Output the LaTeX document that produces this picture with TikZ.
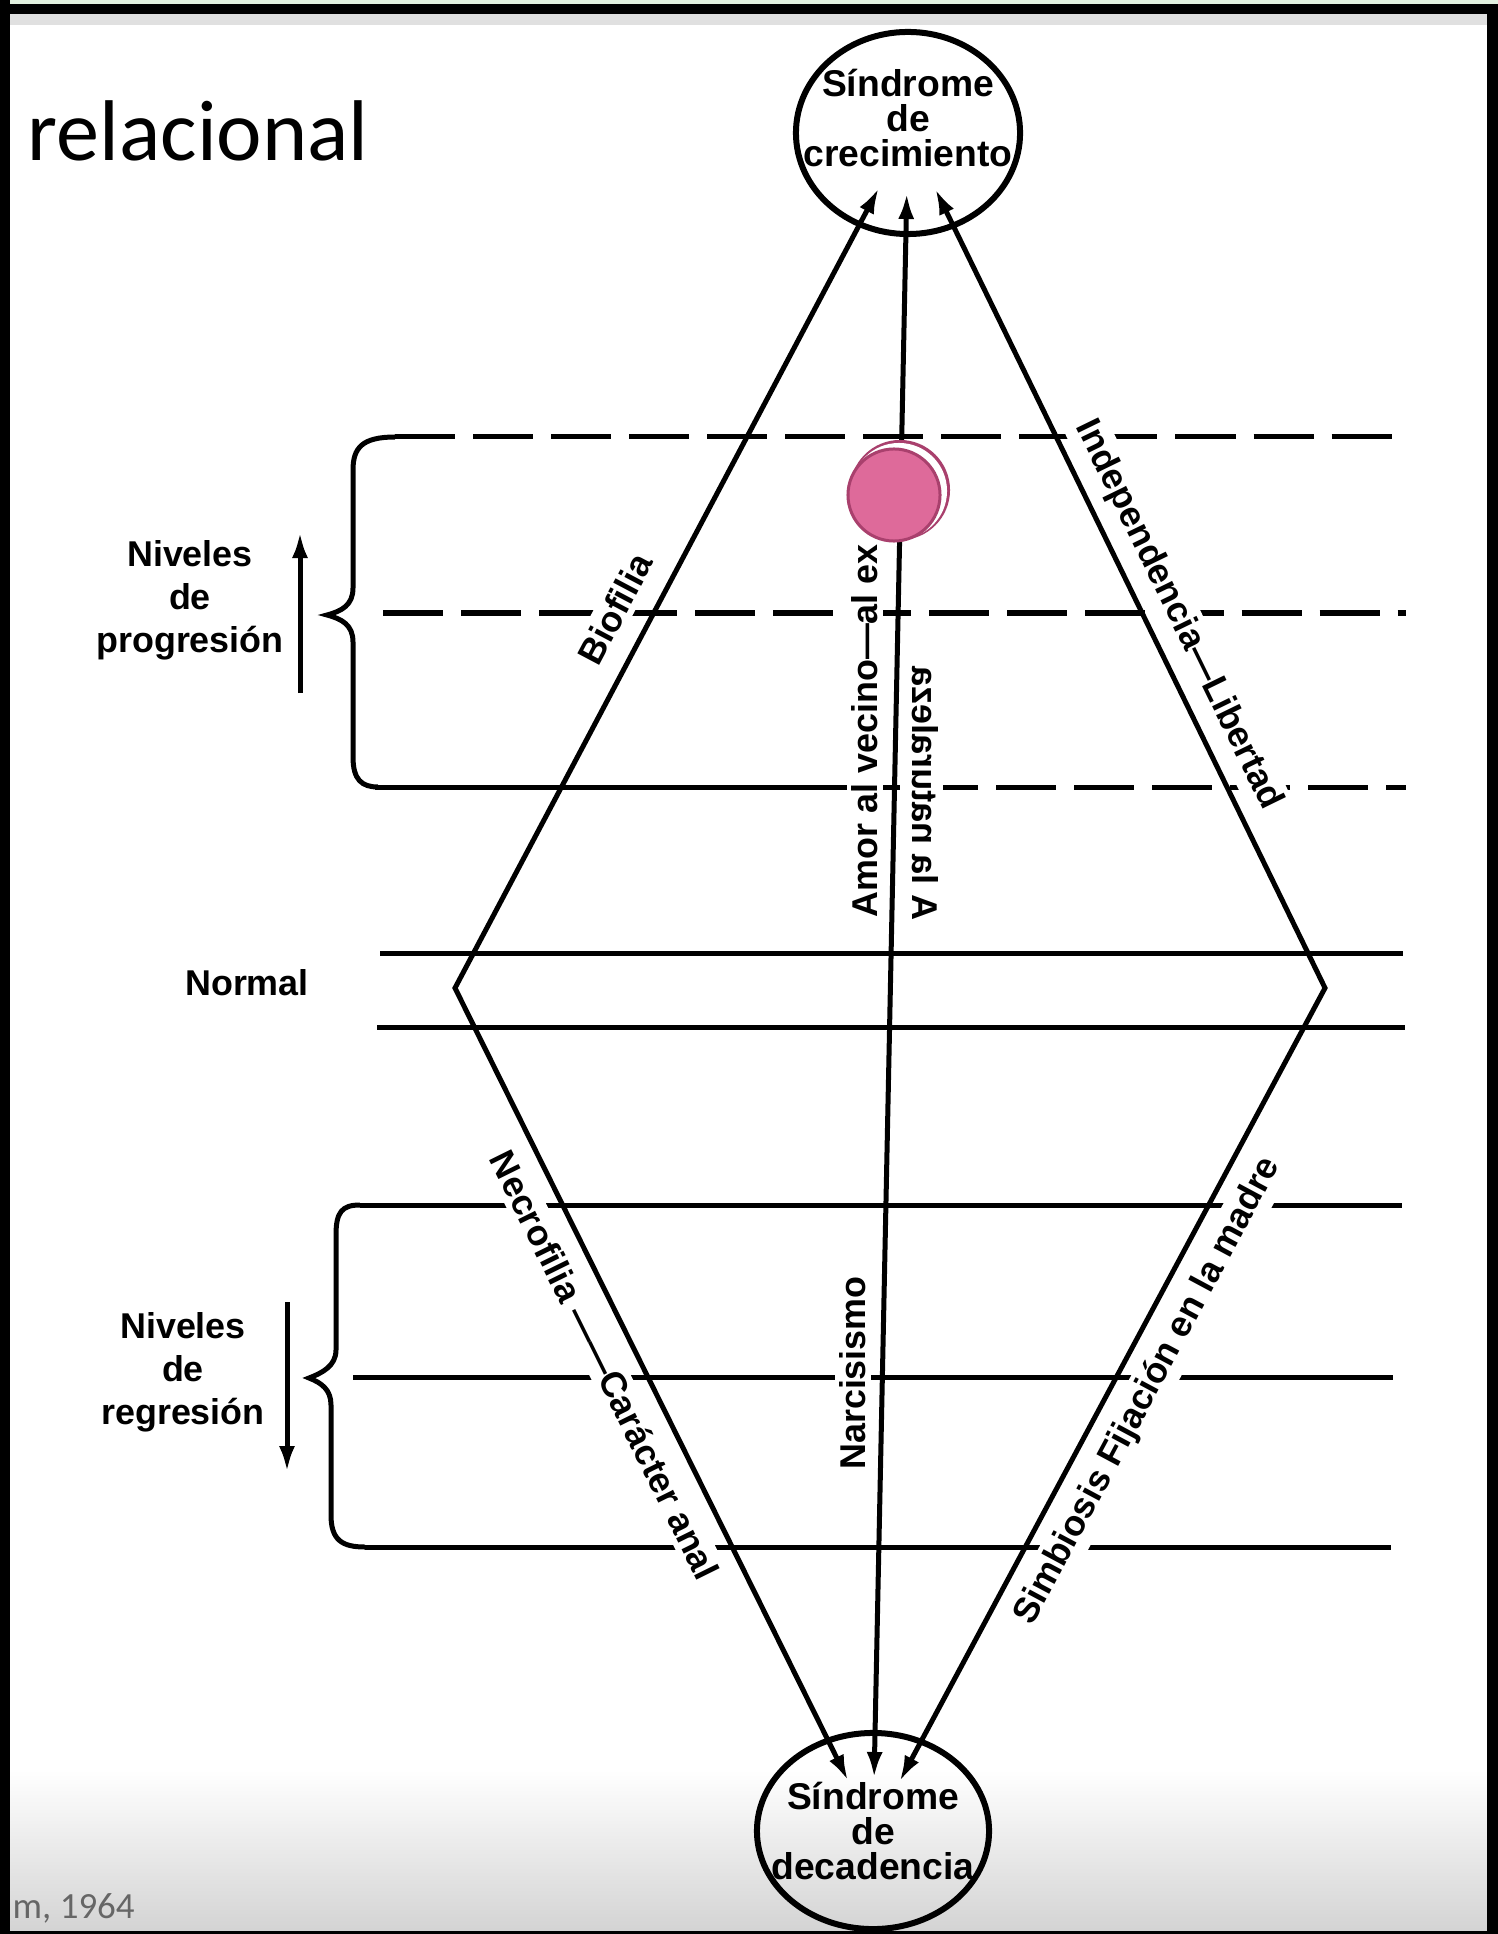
\documentclass[tikz,border=0pt]{standalone}
\usepackage{fontspec}
\setmainfont{Liberation Sans}
\newfontfamily\diapofont{Carlito}
\usetikzlibrary{arrows.meta}
\usetikzlibrary{shapes.geometric}

\definecolor{rosa}{HTML}{DE6A9A}
\definecolor{rosaborde}{HTML}{A9406D}
\definecolor{verdetenue}{HTML}{E2F1E0}

\begin{document}
\begin{tikzpicture}[x=0.01cm,y=-0.01cm,
    linea/.style={line width=0.5mm},
    guiones/.style={dash pattern=on 6mm off 1.8mm},
    flecha/.style={line width=0.5mm,-{Latex[length=2.6mm,width=1.6mm]}},
    flechas/.style={line width=0.5mm,{Latex[length=2.6mm,width=1.6mm]}-{Latex[length=2.6mm,width=1.6mm]}},
    sindrome/.style={ellipse,draw,line width=0.6mm,minimum width=22.4mm,minimum height=20.2mm,inner sep=0pt},
    sindtxt/.style={align=center,inner sep=0pt,font=\bfseries\fontsize{10.6}{10}\selectfont},
    etiqueta/.style={fill=white,inner sep=1.5pt,font=\bfseries\fontsize{10.2}{12.2}\selectfont},
    nivel/.style={align=center,inner sep=0pt,font=\bfseries\fontsize{10.2}{12.2}\selectfont}]

    \useasboundingbox (0,0) rectangle (1498,1934);
    \fill[white] (0,0) rectangle (1498,1934);
    \shade[top color=white,bottom color=black!17] (10,1770) rectangle (1487,1931);
    \fill[black!12] (10,14) rectangle (1487,25);

    % titulo y cita de la diapositiva
    \node[anchor=base west,inner sep=0pt,font=\diapofont\fontsize{24.5}{28}\selectfont] (titulo) at (27,161) {relacional};
    \node[anchor=base west,inner sep=0pt,text=black!60,font=\diapofont\fontsize{10.5}{12}\selectfont] (cita) at (12,1918) {m, 1964};

    % sindromes
    \node[sindrome] (crec) at (908,133) {};
    \node[sindtxt] (crectxt) at ([yshift=1.5mm]crec.center) {Síndrome\\de\\crecimiento};
    \node[sindrome,minimum width=23.2mm,minimum height=19.6mm] (deca) at (873,1831) {};
    \node[sindtxt] (decatxt) at (deca.center) {Síndrome\\de\\decadencia};

    % niveles
    \draw[linea,guiones] (395,437) -- (1409,437);
    \draw[linea,guiones] (383,613) -- (1406,613);
    \draw[linea] (375,787) -- (840,787);
    \draw[linea,guiones] (840,787) -- (1406,787);
    \draw[linea] (380,953) -- (1403,953);
    \draw[linea] (377,1027) -- (1405,1027);
    \draw[linea] (360,1205) -- (1402,1205);
    \draw[linea] (353,1377) -- (1393,1377);
    \draw[linea] (365,1547) -- (1391,1547);

    % llaves
    \draw[linea] (395,437) .. controls (362,437) and (353,448) .. (353,470) -- (353,588)
        .. controls (353,605) and (342,611) .. (327,615) .. controls (342,619) and (353,625) .. (353,642)
        -- (353,757) .. controls (353,780) and (362,787) .. (378,787);
    \draw[linea] (360,1205) .. controls (342,1205) and (336,1212) .. (336,1235) -- (336,1350)
        .. controls (336,1366) and (322,1373) .. (309,1378) .. controls (322,1383) and (331,1390) .. (331,1405)
        -- (331,1515) .. controls (331,1540) and (342,1547) .. (365,1547);

    % rombo
    \coordinate (izq) at (455,988);
    \coordinate (der) at (1325,988);
    \draw[flechas,shorten <=6.2mm,shorten >=5.6mm] (crec.center) -- (izq) -- (deca.center);
    \draw[flechas,shorten <=6.2mm,shorten >=5.6mm] (crec.center) -- (der) -- (deca.center);
    \draw[flechas,shorten <=6mm,shorten >=5.3mm] (crec.center) -- (deca.center);

    % flechas de los niveles
    \coordinate (subeA) at (300,693);
    \coordinate (subeB) at (300,532);
    \coordinate (bajaA) at (287,1302);
    \coordinate (bajaB) at (287,1472);
    \draw[flecha] (subeA) -- (subeB);
    \draw[flecha] (bajaA) -- (bajaB);

    \node[nivel] (progresion) at (190,600) {Niveles\\de\\progresión};
    \node[nivel] (normal) at (247,983) {Normal};
    \node[nivel] (regresion) at (183,1372) {Niveles\\de\\regresión};

    % textos de las orientaciones
    \node[etiqueta,rotate=62.1] (biofilia) at (615,609) {Biofilia};
    \node[etiqueta,rotate=90,anchor=west] (amor) at (865,923) {Amor al vecino—al ex};
    \node[etiqueta,rotate=90,yscale=-1,anchor=west] (natura) at (925,926) {A la naturaleza};
    \node[etiqueta,rotate=-64] (indep) at (1178,615) {Independencia—Libertad};
    \node[etiqueta,rotate=-63.7] (necro) at (605,1365) {Necrofilia ——Carácter anal};
    \node[etiqueta,rotate=90] (narci) at (853,1373) {Narcisismo};
    \node[etiqueta,rotate=61.8] (simbio) at (1148,1391) {Simbiosis Fijación en la madre};

    % punto rosa
    \fill[rosaborde] (900,490) circle[radius=5mm];
    \fill[white] (899,491) circle[radius=4.8mm];
    \filldraw[fill=rosa,draw=rosaborde,line width=0.3mm] (894,495) circle[radius=4.6mm];

    % marco
    \fill[verdetenue] (0,0) rectangle (1498,4);
    \fill[black] (0,4) rectangle (1498,14);
    \fill[black] (0,0) rectangle (10,1934);
    \fill[black] (1487,4) rectangle (1498,1934);
    \fill[black] (0,1931) rectangle (1498,1934);
\end{tikzpicture}
\end{document}
